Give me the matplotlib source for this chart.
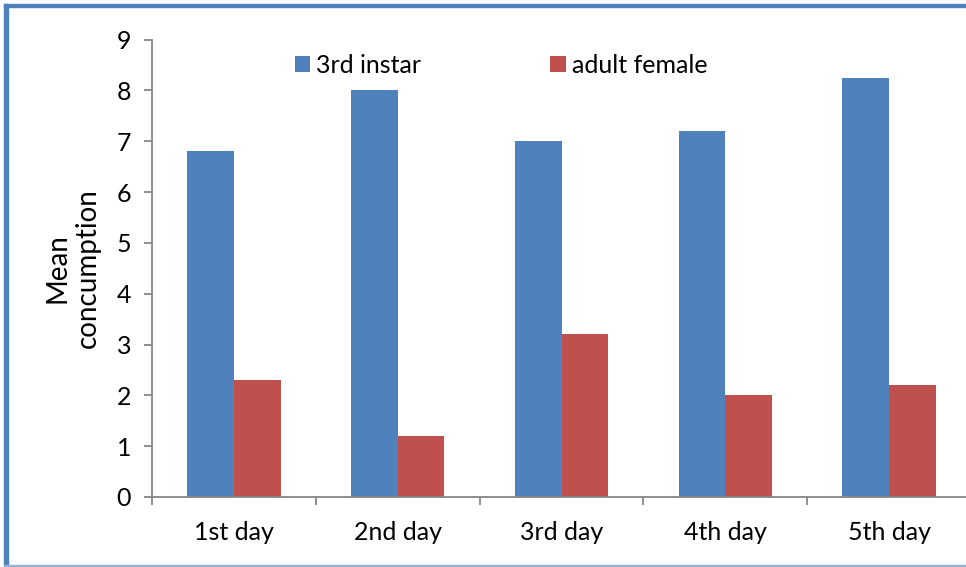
import matplotlib
matplotlib.use("Agg")
import matplotlib.pyplot as plt
import numpy as np
from matplotlib.patches import Rectangle

categories = ["1st day", "2nd day", "3rd day", "4th day", "5th day"]
instar3 = [6.8, 8.0, 7.0, 7.2, 8.25]
adult_female = [2.3, 1.2, 3.2, 2.0, 2.2]
series_names = ["3rd instar", "adult female"]
yticks = [0, 1, 2, 3, 4, 5, 6, 7, 8, 9]

plt.rcParams['font.family'] = ['Lato', 'DejaVu Sans']

fig = plt.figure(figsize=(9.66, 5.67), dpi=100)
ax = fig.add_axes([152/966, 70/567, 819/966, 457.5/567])

x = np.arange(len(categories))
w = 0.285
blue = "#4F81BD"
red = "#C0504D"
b1 = ax.bar(x - w/2, instar3, w, color=blue, label=series_names[0])
b2 = ax.bar(x + w/2, adult_female, w, color=red, label=series_names[1])

ax.set_xlim(-0.5, len(categories) - 0.5)
ax.set_ylim(0, 9)
ax.set_yticks(yticks)
ax.set_xticks(x)
ax.set_xticklabels(categories)
ax.set_xticks(np.arange(len(categories) + 1) - 0.5, minor=True)

grey = "#868686"
for s in ["top", "right"]:
    ax.spines[s].set_visible(False)
for s in ["left", "bottom"]:
    ax.spines[s].set_color(grey)
    ax.spines[s].set_linewidth(1.3)

fs = 18
ax.tick_params(axis="y", which="major", length=6, width=1.3, color=grey,
               labelsize=fs, pad=9)
ax.tick_params(axis="x", which="major", length=0, labelsize=fs, pad=17)
ax.tick_params(axis="x", which="minor", length=6, width=1.3, color=grey)

ax.set_ylabel("Mean\nconcumption", fontsize=20, linespacing=1.25, labelpad=11)

leg = ax.legend(ncol=2, frameon=False, fontsize=fs, loc="upper left",
                bbox_to_anchor=(0.162, 0.99), handlelength=0.62,
                handleheight=0.62, handletextpad=0.25, columnspacing=5.15,
                borderaxespad=0)

# figure frame
fig.patches.append(Rectangle((4/966, 0), 4/966, 1 - 4/567, transform=fig.transFigure,
                             color=blue, zorder=10))
fig.patches.append(Rectangle((4/966, 1 - 7/567), 1, 3/567, transform=fig.transFigure,
                             color=blue, zorder=10))
fig.patches.append(Rectangle((4/966, 1/567), 1, 1.2/567, transform=fig.transFigure,
                             color="#95B3D7", zorder=10))

fig.savefig("out.png", dpi=100)
